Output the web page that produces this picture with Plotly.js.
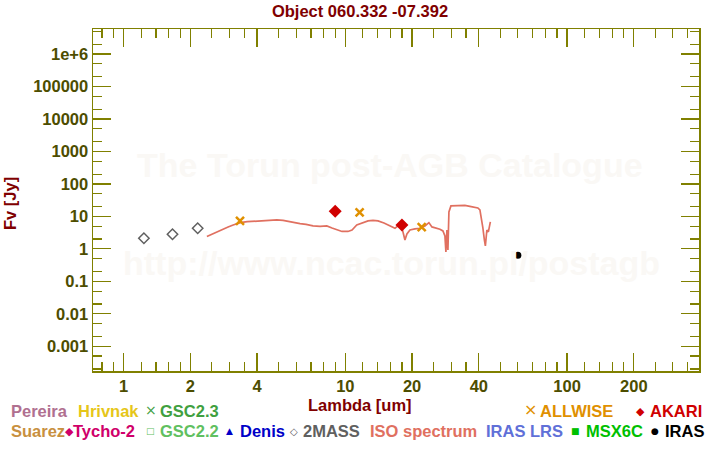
<!DOCTYPE html>
<html>
<head>
<meta charset="utf-8">
<script src="https://cdn.plot.ly/plotly-3.0.1.min.js"></script>
<style>html,body{margin:0;padding:0;background:#fff;}#chart{width:720px;height:450px;}</style>
</head>
<body>
<div id="chart"></div>
<script>
// ---- data ----
const isoLambda = [2.375,2.51,2.67,2.81,2.96,3.12,3.36,3.61,3.99,4.39,4.91,5.24,5.64,5.93,6.25,6.65,7.15,7.69,8.25,8.71,9.15,9.66,10.28,10.72,11.26,11.89,12.66,13.33,14.04,14.94,15.57,16.23,16.75,17.28,17.82,18.20,18.57,18.96,19.56,20.61,21.71,22.86,23.82,24.58,25.62,26.71,27.55,28.13,28.42,28.72,29.02,29.32,29.94,31.20,32.86,34.61,36.45,37.99,39.60,40.45,41.08,41.72,42.37,42.81,43.49,44.16,45.09];
const isoFlux   = [2.41,2.88,3.56,4.02,4.73,5.45,6.42,6.85,7.24,7.51,7.78,7.51,6.75,6.51,5.98,5.65,5.08,4.90,5.08,4.41,3.82,3.44,3.44,3.82,5.45,6.29,7.24,7.51,7.24,6.29,5.45,4.73,4.32,5.08,5.45,3.32,1.88,2.88,3.82,4.11,4.32,5.08,6.42,4.73,4.41,4.02,3.56,2.50,0.80,3.82,0.925,13.7,21.0,21.5,21.0,21.8,20.3,19.6,18.2,15.8,8.97,4.41,1.88,1.23,3.82,3.32,6.75];

const twomassLambda = [1.235,1.662,2.159];
const twomassFlux   = [2.12,2.82,4.31];

const allwiseLambda = [3.35,11.6,22.1];
const allwiseFlux   = [7.25,13.4,4.63];

const akariLambda = [9.0,18.0];
const akariFlux   = [14.4,5.45];

const irasLambda = [60.0];
const irasFlux   = [0.635];

const xTickVals  = [1,2,4,10,20,40,100,200];
const xTickText  = ['1','2','4','10','20','40','100','200'];
const xMinorVals = [0.8,0.9,1.2,1.4,1.6,1.8,2.5,3,3.5,5,6,7,8,9,12,14,16,18,25,30,35,50,60,70,80,90,120,140,160,180,250,300,350];
const yTickVals  = [1e-3,1e-2,1e-1,1,10,100,1000,1e4,1e5,1e6];
const yTickText  = ['0.001','0.01','0.1','1','10','100','1000','10000','100000','1e+6'];
const yMinorVals = [2e-4,5e-4,2e-3,5e-3,2e-2,5e-2,0.2,0.5,2,5,20,50,200,500,2e3,5e3,2e4,5e4,2e5,5e5,2e6,5e6];

const legendRow1 = ['Pereira','Hrivnak','GSC2.3','ALLWISE','AKARI'];
const legendRow2 = ['Suarez','Tycho-2','GSC2.2','Denis','2MASS','ISO spectrum','IRAS LRS','MSX6C','IRAS'];

// ---- layout helpers ----
const L = 93, R = 699, T = 29, B = 371;
const px = x => (x - L) / (R - L);
const py = y => (B - y) / (B - T);
const FONT = 'Liberation Sans, Arial, Helvetica, sans-serif';
const OLIVE = '#808000';
const TICKC = '#4d4d00';
const DARKRED = '#800000';

const traces = [
  {x: isoLambda, y: isoFlux, mode: 'lines', line: {color: '#e07060', width: 1.7}, hoverinfo: 'skip'},
  {x: twomassLambda, y: twomassFlux, mode: 'markers',
   marker: {symbol: 'diamond-open', size: 8, color: '#606060', line: {width: 1.5, color: '#606060'}}},
  {x: allwiseLambda, y: allwiseFlux, mode: 'markers',
   marker: {symbol: 'x-thin', size: 8, color: '#e09000', line: {width: 2.5, color: '#e09000'}}},
  {x: akariLambda, y: akariFlux, mode: 'markers',
   marker: {symbol: 'diamond', size: 10, color: '#d00000'}},
  {x: irasLambda, y: irasFlux, mode: 'markers',
   marker: {symbol: 'circle', size: 7, color: '#000000'}}
];

function txt(text, x, y, color, size, anchor, extra) {
  return Object.assign({
    text: text, xref: 'paper', yref: 'paper', x: px(x), y: py(y),
    xanchor: anchor || 'left', yanchor: 'middle', showarrow: false,
    font: {family: FONT, size: size || 16.5, color: color, weight: 'bold'}
  }, extra || {});
}
const SYM = 'DejaVu Sans, sans-serif';
function sym(text, x, y, color, size) {
  return {text: text, xref: 'paper', yref: 'paper', x: px(x), y: py(y),
    xanchor: 'center', yanchor: 'middle', showarrow: false,
    font: {family: SYM, size: size || 11, color: color}};
}

const r1 = 411, r2 = 431;
const annotations = [
  // watermark
  txt('The Torun post-AGB Catalogue', 390, 165, '#faf8f5', 34, 'center'),
  txt('http://www.ncac.torun.pl/postagb', 391, 263, '#faf8f5', 34, 'center'),
  // axis titles
  txt('Lambda [um]', 360, 405, DARKRED, 16.5, 'center'),
  txt('Fv [Jy]', 10, 204, DARKRED, 16.5, 'center', {textangle: -90}),
  // legend row 1
  txt(legendRow1[0], 9, r1, '#b07090'),
  txt(legendRow1[1], 76, r1, '#e6c619'),
  sym('\u00d7', 150.5, r1 - 1, '#40a040', 14),
  txt(legendRow1[2], 158, r1, '#40a040'),
  sym('\u00d7', 530.3, r1 - 1, '#e09000', 16),
  txt(legendRow1[3], 538, r1, '#e09000'),
  sym('\u25c6', 640.8, r1, '#d00000', 11),
  txt(legendRow1[4], 648, r1, '#d00000'),
  // legend row 2
  txt(legendRow2[0], 9, r2, '#c89040'),
  sym('\u25c6', 69.7, r2, '#d0006a', 11),
  txt(legendRow2[1], 71, r2, '#d0006a'),
  sym('\u25a1', 150.7, r2, '#60c060', 9),
  txt(legendRow2[2], 158, r2, '#60c060'),
  sym('\u25b2', 229.8, r2, '#0000c8', 9),
  txt(legendRow2[3], 238, r2, '#0000c8'),
  sym('\u25c7', 294, r2, '#606060', 10),
  txt(legendRow2[4], 301, r2, '#606060'),
  txt(legendRow2[5], 368, r2, '#e07060'),
  txt(legendRow2[6], 484, r2, '#6070d8'),
  sym('\u25a0', 575.2, r2, '#00c000', 9),
  txt(legendRow2[7], 584, r2, '#00c000'),
  sym('\u25cf', 655.3, r2, '#000000', 9),
  txt(legendRow2[8], 663, r2, '#000000')
];

const layout = {
  width: 720, height: 450,
  margin: {l: L, r: 720 - R, t: T, b: 450 - B, pad: 0},
  paper_bgcolor: '#ffffff', plot_bgcolor: '#ffffff',
  showlegend: false,
  title: {text: 'Object 060.332 -07.392', x: 0.5, xanchor: 'center', xref: 'container',
          y: 1 - 11 / 450, yref: 'container', yanchor: 'middle',
          font: {family: FONT, size: 16.5, color: DARKRED, weight: 'bold'}},
  xaxis: {
    type: 'log', range: [Math.log10(0.728), Math.log10(393.5)],
    showgrid: false, zeroline: false,
    showline: true, linecolor: OLIVE, linewidth: 1.5, mirror: 'allticks',
    ticks: 'inside', ticklen: 18, tickwidth: 1.2, tickcolor: OLIVE,
    tickmode: 'array', tickvals: xTickVals, ticktext: xTickText,
    tickfont: {family: FONT, size: 16.5, color: TICKC, weight: 'bold'},
    minor: {tickmode: 'array', tickvals: xMinorVals, ticks: 'inside', ticklen: 9, tickwidth: 1.2, tickcolor: OLIVE, showgrid: false}
  },
  yaxis: {
    type: 'log', range: [-3.761, 6.77],
    showgrid: false, zeroline: false,
    showline: true, linecolor: OLIVE, linewidth: 1.5, mirror: 'allticks',
    ticks: 'inside', ticklen: 18, tickwidth: 1.2, tickcolor: OLIVE,
    tickmode: 'array', tickvals: yTickVals, ticktext: yTickText,
    tickfont: {family: FONT, size: 16.5, color: TICKC, weight: 'bold'},
    minor: {tickmode: 'array', tickvals: yMinorVals, ticks: 'inside', ticklen: 9, tickwidth: 1.2, tickcolor: OLIVE, showgrid: false}
  },
  annotations: annotations
};

Plotly.newPlot('chart', traces, layout, {staticPlot: true, displayModeBar: false});
</script>
</body>
</html>
